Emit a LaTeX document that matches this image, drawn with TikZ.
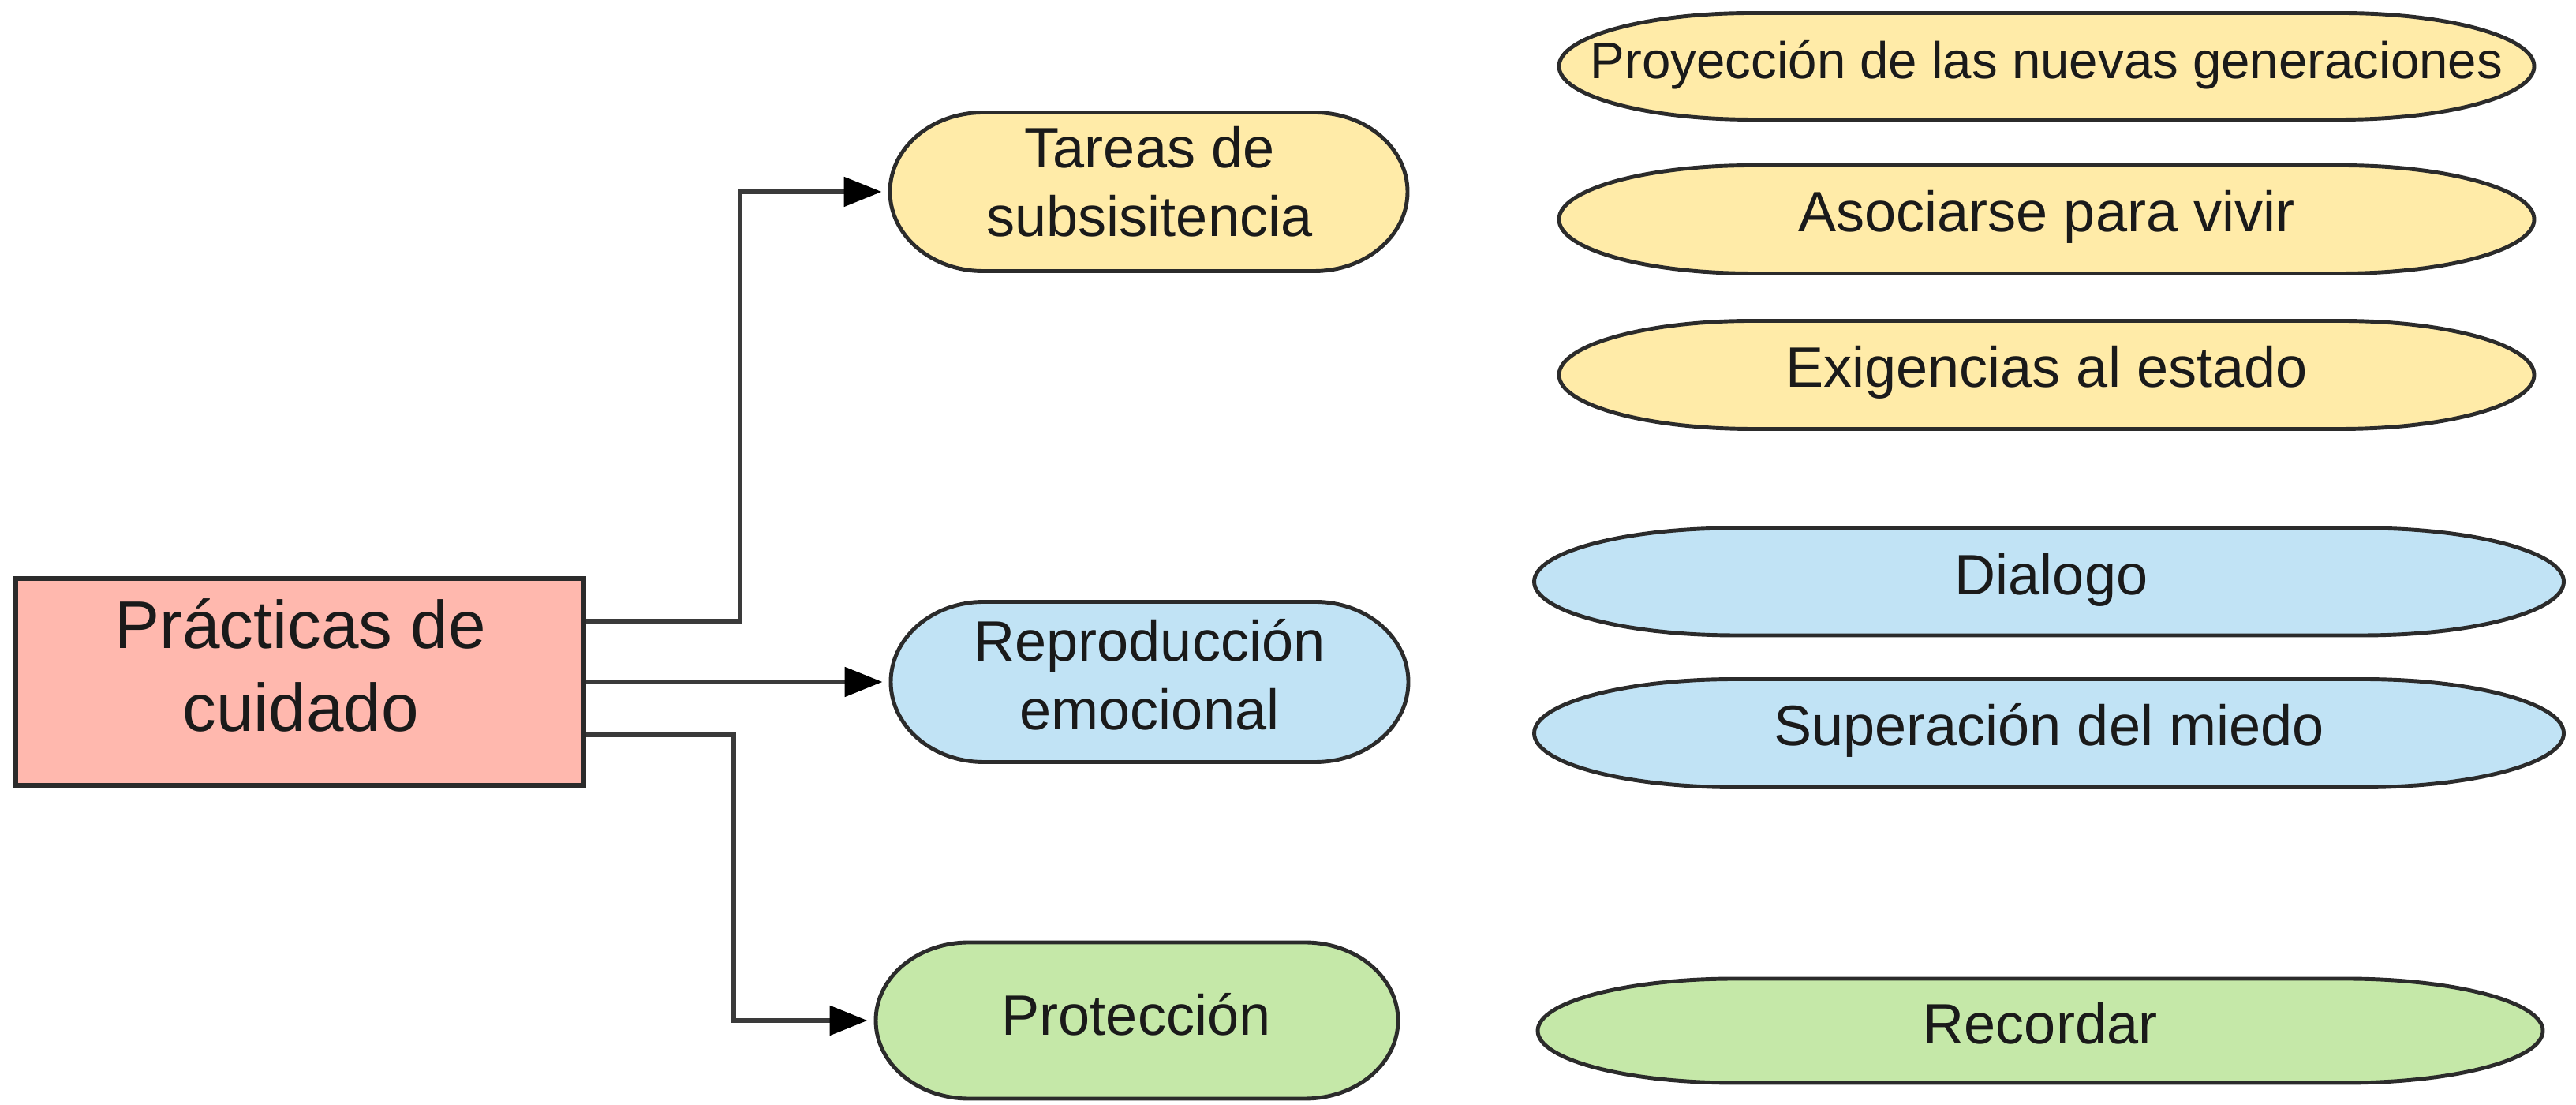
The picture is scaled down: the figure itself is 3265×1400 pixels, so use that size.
\documentclass[tikz,border=0pt]{standalone}
\usepackage{fontspec}
\setmainfont{Liberation Sans}
\usetikzlibrary{arrows.meta,calc}
\definecolor{pinkfill}{HTML}{FFB8AE}
\definecolor{yellowfill}{HTML}{FFEBA8}
\definecolor{bluefill}{HTML}{C1E3F5}
\definecolor{greenfill}{HTML}{C5E8A8}
\definecolor{strokec}{HTML}{2B2B2B}
\definecolor{linec}{HTML}{3A3A3A}
\definecolor{textc}{HTML}{1A1A1A}
\tikzset{
  shapeline/.style={draw=strokec,line width=1.4pt},
  conn/.style={draw=linec,line width=1.55pt,shorten >=2.8pt,
    -{Triangle[length=13.6pt,width=10.5pt,color=black,fill=black]}},
  rectlabel/.style={text=textc,anchor=base,inner sep=0pt,font=\fontsize{24.3}{29}\selectfont},
  pilllabel/.style={text=textc,anchor=base,inner sep=0pt,font=\fontsize{20.5}{24}\selectfont},
  ovallabel/.style={text=textc,anchor=base,inner sep=0pt,font=\fontsize{20.5}{24}\selectfont},
  smalllabel/.style={text=textc,anchor=base,inner sep=0pt,font=\fontsize{18.6}{22}\selectfont},
}
% #1 name, #2 cx, #3 cy, #4 w, #5 h, #6 rx, #7 fill
\newcommand\capsule[7]{%
  \filldraw[shapeline,fill=#7] ({#2-#4/2+#6},{#3+#5/2}) -- ({#2+#4/2-#6},{#3+#5/2})
    arc[start angle=90,end angle=-90,x radius=#6,y radius=#5/2]
    -- ({#2-#4/2+#6},{#3-#5/2})
    arc[start angle=270,end angle=90,x radius=#6,y radius=#5/2] -- cycle;
  \node[minimum width={0.01cm*#4},minimum height={0.01cm*#5},inner sep=0pt] (#1) at (#2,#3) {};%
}
\begin{document}
\begin{tikzpicture}[x=0.01cm,y=0.01cm]
\useasboundingbox (0,0) rectangle (3265,1400);

% central box
\node[draw=strokec,line width=1.7pt,fill=pinkfill,minimum width=7.2cm,minimum height=2.62cm] (rect) at (380,536) {};
\node[rectlabel] (rect-a) at (381,578) {Prácticas de};
\node[rectlabel] (rect-b) at (381,473) {cuidado};

% categories
\capsule{tareas}{1456}{1157}{656}{201}{118}{yellowfill}
\node[pilllabel] (tareas-a) at (1457,1187) {Tareas de};
\node[pilllabel] (tareas-b) at (1457,1100) {subsisitencia};

\capsule{repro}{1457}{536}{656}{203}{118}{bluefill}
\node[pilllabel] (repro-a) at (1457,562) {Reproducción};
\node[pilllabel] (repro-b) at (1457,475) {emocional};

\capsule{prot}{1441}{107}{662}{198}{118}{greenfill}
\node[pilllabel] (prot-a) at (1440,88) {Protección};

% items
\capsule{proy}{2594}{1316}{1236}{135}{245}{yellowfill}
\node[smalllabel] (proy-a) at (2594,1300) {Proyección de las nuevas generaciones};
\capsule{asoc}{2594}{1122}{1236}{137}{245}{yellowfill}
\node[ovallabel] (asoc-a) at (2594,1106) {Asociarse para vivir};
\capsule{exig}{2594}{925}{1236}{137}{245}{yellowfill}
\node[ovallabel] (exig-a) at (2594,909) {Exigencias al estado};
\capsule{dial}{2597}{663}{1305}{136}{255}{bluefill}
\node[ovallabel] (dial-a) at (2600,646) {Dialogo};
\capsule{super}{2597}{471}{1305}{137}{255}{bluefill}
\node[ovallabel] (super-a) at (2597,455) {Superación del miedo};
\capsule{record}{2586}{94}{1274}{132}{250}{greenfill}
\node[ovallabel] (record-a) at (2586,77) {Recordar};

% connectors
\draw[conn] ($(rect.east)+(0,77)$) -- ++(195,0) |- (tareas.west);
\draw[conn] (rect.east) -- (repro.west);
\draw[conn] ($(rect.east)+(0,-67)$) -- ++(187,0) |- (prot.west);
\end{tikzpicture}
\end{document}
